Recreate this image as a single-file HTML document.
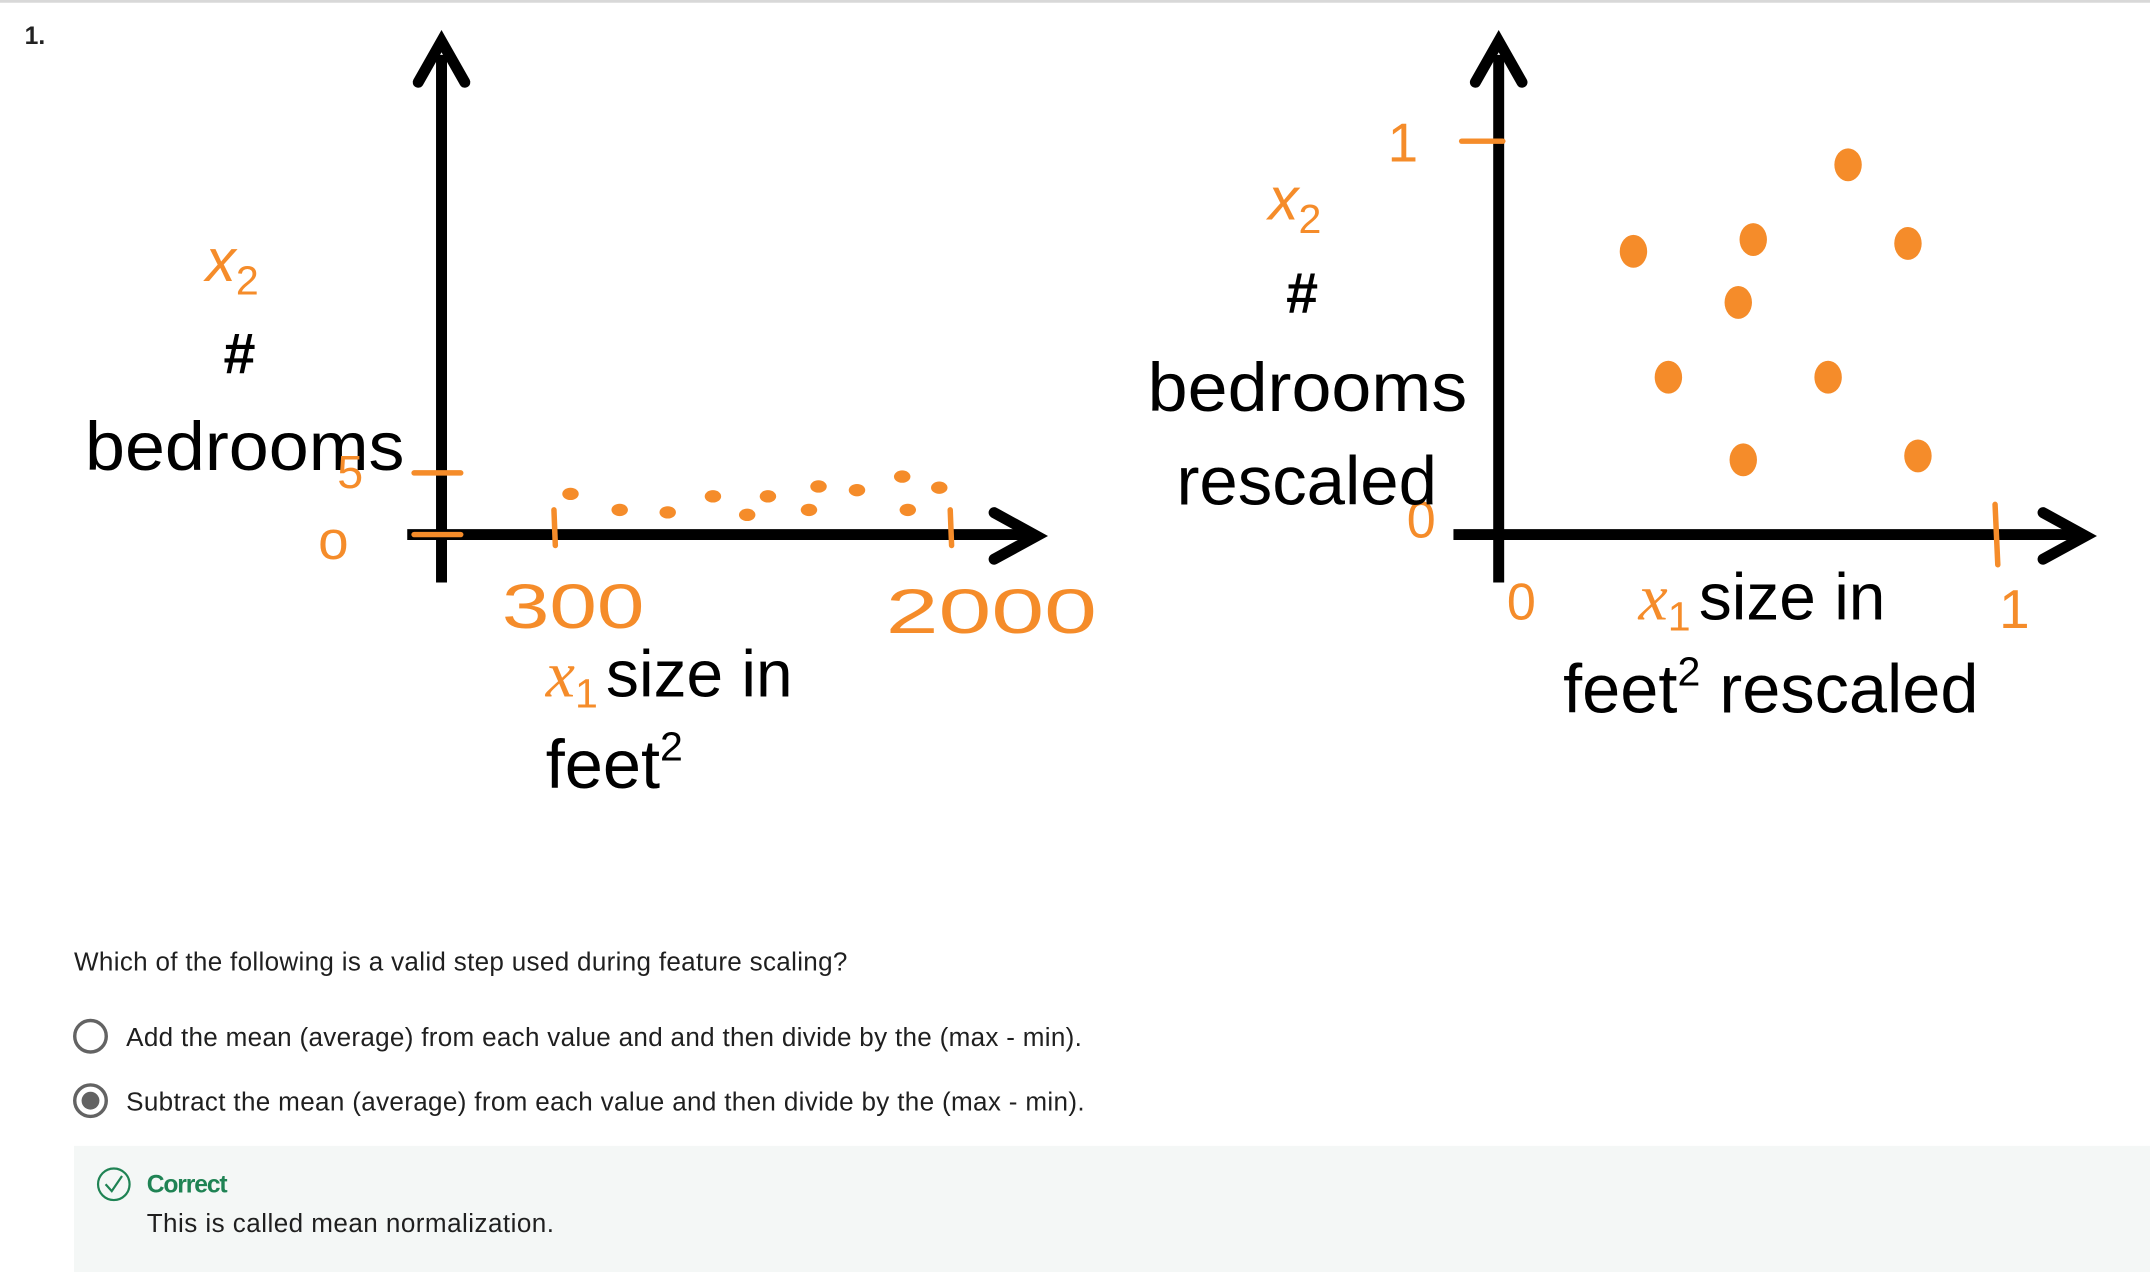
<!DOCTYPE html>
<html><head><meta charset="utf-8"><style>
html,body{margin:0;padding:0;background:#fff;width:2150px;height:1272px;overflow:hidden}
svg{display:block}
text{font-family:"Liberation Sans",sans-serif}
</style></head><body>
<svg id="s" width="2150" height="1272" viewBox="0 0 1568 928" preserveAspectRatio="none" xmlns="http://www.w3.org/2000/svg">
<rect x="0" y="0" width="1568" height="2" fill="#d8d8d8"/>
<text x="18" y="32" font-size="18" font-weight="bold" fill="#222">1.</text>

<g id="left">
  <line x1="322" y1="425" x2="322" y2="40" stroke="#000" stroke-width="8"/>
  <polyline points="305,60 322,30 339,60" fill="none" stroke="#000" stroke-width="8" stroke-linecap="round"/>
  <line x1="297" y1="390" x2="752" y2="390" stroke="#000" stroke-width="8"/>
  <polyline points="725,374 756,391 725,408" fill="none" stroke="#000" stroke-width="8" stroke-linecap="round"/>
  <g id="leftTicks" stroke="#f58c2a" stroke-width="4" stroke-linecap="round" fill="none"></g>
  <text x="150" y="205" font-size="44" font-style="italic" font-family="Liberation Serif" fill="#f58c2a">x<tspan font-size="30" dy="10" font-style="normal" font-family="Liberation Sans">2</tspan></text>
  <text x="163" y="272" font-size="42" font-weight="bold" fill="#000">#</text>
  <text x="62" y="343" font-size="50" fill="#000" textLength="233" lengthAdjust="spacingAndGlyphs">bedrooms</text>
  <text x="246" y="356" font-size="34" fill="#f58c2a">5</text>
  <text x="232" y="408" font-size="40" fill="#f58c2a">o</text>
  <text x="366" y="458" font-size="46" fill="#f58c2a" textLength="104" lengthAdjust="spacingAndGlyphs">300</text>
  <text x="646" y="462" font-size="46" fill="#f58c2a" textLength="154" lengthAdjust="spacingAndGlyphs">2000</text>
  <text x="398" y="508" font-size="48" fill="#000"><tspan fill="#f58c2a" font-style="italic" font-family="Liberation Serif">x</tspan><tspan fill="#f58c2a" font-size="30" dy="8">1</tspan><tspan dy="-8" dx="6">size in</tspan></text>
  <text x="398" y="575" font-size="50" fill="#000">feet<tspan font-size="30" dy="-20">2</tspan></text>
  <g id="leftDots" fill="#f58c2a"></g>
</g>

<g id="right">
  <line x1="1093" y1="425" x2="1093" y2="40" stroke="#000" stroke-width="8"/>
  <polyline points="1076,60 1093,30 1110,60" fill="none" stroke="#000" stroke-width="8" stroke-linecap="round"/>
  <line x1="1060" y1="390" x2="1517" y2="390" stroke="#000" stroke-width="8"/>
  <polyline points="1490,374 1521,391 1490,408" fill="none" stroke="#000" stroke-width="8" stroke-linecap="round"/>
  <g id="rightTicks" stroke="#f58c2a" stroke-width="4" stroke-linecap="round" fill="none"></g>
  <text x="1012" y="118" font-size="40" fill="#f58c2a">1</text>
  <text x="1026" y="392" font-size="38" fill="#f58c2a">0</text>
  <text x="1099" y="452" font-size="38" fill="#f58c2a">0</text>
  <text x="1458" y="458" font-size="40" fill="#f58c2a">1</text>
  <text x="925" y="160" font-size="44" font-style="italic" font-family="Liberation Serif" fill="#f58c2a">x<tspan font-size="30" dy="10" font-style="normal" font-family="Liberation Sans">2</tspan></text>
  <text x="938" y="228" font-size="42" font-weight="bold" fill="#000">#</text>
  <text x="837" y="300" font-size="50" fill="#000" textLength="233" lengthAdjust="spacingAndGlyphs">bedrooms</text>
  <text x="858" y="368" font-size="50" fill="#000" textLength="190" lengthAdjust="spacingAndGlyphs">rescaled</text>
  <text x="1195" y="452" font-size="48" fill="#000"><tspan fill="#f58c2a" font-style="italic" font-family="Liberation Serif">x</tspan><tspan fill="#f58c2a" font-size="30" dy="8">1</tspan><tspan dy="-8" dx="6">size in</tspan></text>
  <text x="1140" y="520" font-size="50" fill="#000">feet<tspan font-size="30" dy="-20">2</tspan><tspan dy="20"> rescaled</tspan></text>
  <g id="rightDots" fill="#f58c2a"></g>
</g>

<text x="54" y="708" font-size="19" fill="#1f1f1f" textLength="564">Which of the following is a valid step used during feature scaling?</text>
<circle cx="66" cy="756" r="11.5" fill="#fff" stroke="#636363" stroke-width="2.5"/>
<text x="92" y="763" font-size="19" fill="#1f1f1f" textLength="697">Add the mean (average) from each value and and then divide by the (max - min).</text>
<circle cx="66" cy="803" r="11.5" fill="#fff" stroke="#636363" stroke-width="2.5"/>
<circle cx="66" cy="803" r="6.5" fill="#636363"/>
<text x="92" y="810" font-size="19" fill="#1f1f1f" textLength="699">Subtract the mean (average) from each value and then divide by the (max - min).</text>
<rect x="54" y="836" width="1514" height="92" fill="#f4f7f6"/>
<circle cx="83" cy="864" r="11.5" fill="none" stroke="#1f8354" stroke-width="1.6"/>
<polyline points="77,864 81.5,869 89,858" fill="none" stroke="#1f8354" stroke-width="1.6"/>
<text x="107" y="870" font-size="18" font-weight="bold" fill="#1f8354" textLength="59">Correct</text>
<text x="107" y="899" font-size="19" fill="#1f1f1f" textLength="297">This is called mean normalization.</text>
</svg>
<script>
// Left chart data: size (ft^2) vs bedrooms
const leftSizes = [371, 582, 788, 982, 1129, 1218, 1394, 1435, 1600, 1794, 1818, 1953];
const leftBedrooms = [3.3, 2.0, 1.8, 3.1, 1.6, 3.1, 2.0, 3.9, 3.6, 4.7, 2.0, 3.8];
const leftXTicks = [300, 2000];
const leftYTicks = [0, 5];
// Right chart data: rescaled
const rightSizes = [0.70, 0.27, 0.51, 0.82, 0.48, 0.34, 0.66, 0.49, 0.84];
const rightBedrooms = [0.94, 0.72, 0.75, 0.74, 0.59, 0.40, 0.40, 0.19, 0.20];
const rightXTicks = [1];
const rightYTicks = [1];

const NS = 'http://www.w3.org/2000/svg';
const lx = v => 404 + (v - 300) / 1700 * 289;
const ly = v => 390 - v / 5 * 45;
const rx = v => 1093 + v * 364;
const ry = v => 390 - v * 287;

function mk(tag, attrs, parent) {
  const e = document.createElementNS(NS, tag);
  for (const k in attrs) e.setAttribute(k, attrs[k]);
  parent.appendChild(e);
  return e;
}
const ld = document.getElementById('leftDots');
leftSizes.forEach((s, i) => {
  const e = mk('ellipse', {cx: lx(s), cy: ly(leftBedrooms[i]), rx: 6, ry: 4.5}, ld);
  
  
});
const lt = document.getElementById('leftTicks');
leftXTicks.forEach(t => {
  const e = mk('line', {x1: lx(t), y1: 372, x2: lx(t) + 1, y2: 398}, lt);
  
  
});
leftYTicks.forEach(t => {
  const e = mk('line', {x1: 302, y1: ly(t), x2: 336, y2: ly(t)}, lt);
  
  
});
const rd = document.getElementById('rightDots');
rightSizes.forEach((s, i) => {
  const e = mk('ellipse', {cx: rx(s), cy: ry(rightBedrooms[i]), rx: 10, ry: 12}, rd);
  
  
});
const rt = document.getElementById('rightTicks');
rightXTicks.forEach(t => {
  const e = mk('line', {x1: rx(t) - 2, y1: 368, x2: rx(t), y2: 412}, rt);
  
  
});
rightYTicks.forEach(t => {
  const e = mk('line', {x1: 1066, y1: ry(t), x2: 1096, y2: ry(t)}, rt);
  
  
});
</script>
</body></html>
